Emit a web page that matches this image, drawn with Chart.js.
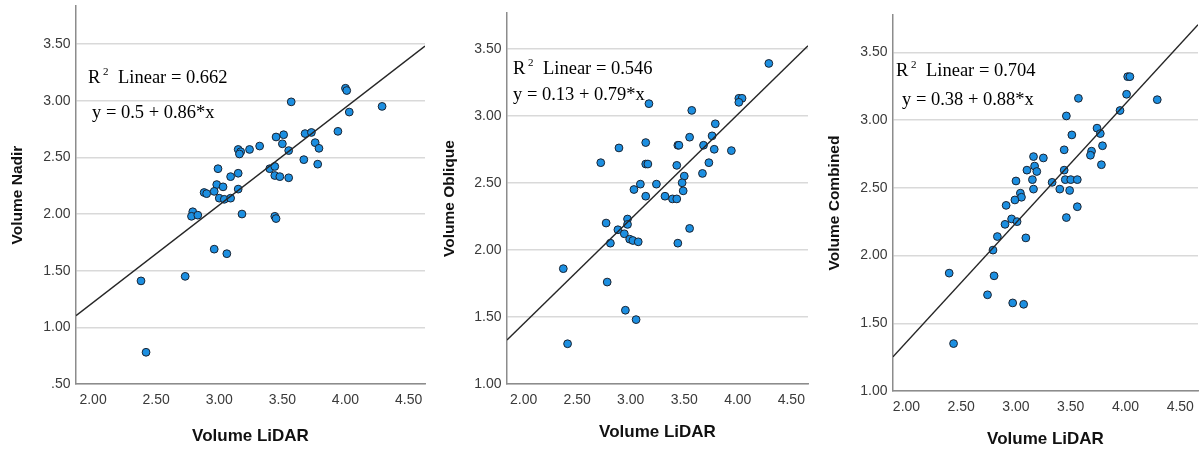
<!DOCTYPE html>
<html>
<head>
<meta charset="utf-8">
<script src="https://cdn.jsdelivr.net/npm/chart.js@4.4.1/dist/chart.umd.min.js"></script>
<style>
    html, body { margin: 0; padding: 0; background: #fff; overflow: hidden; }
    body { width: 1203px; height: 452px; position: relative; }
    canvas { position: absolute; top: 0; }
</style>
</head>
<body>
<canvas id="nadir" width="430" height="452" style="left:0px"></canvas>
<canvas id="oblique" width="381" height="452" style="left:432px"></canvas>
<canvas id="combined" width="387" height="452" style="left:816px"></canvas>
<script>
// tick labels
const xTicks = [2.0, 2.5, 3.0, 3.5, 4.0, 4.5];
const nadirTicks = [0.5, 1.0, 1.5, 2.0, 2.5, 3.0, 3.5];
const volumeTicks = [1.0, 1.5, 2.0, 2.5, 3.0, 3.5];

// Volume LiDAR vs Volume Nadir
const nadirX = [4.00, 4.01, 3.57, 4.29, 4.03, 3.94, 3.68, 3.73, 3.45, 3.51, 3.50, 3.76, 3.79, 3.55, 3.32, 3.24, 3.15, 3.17, 3.16, 3.67, 3.78, 2.99, 3.40, 3.44, 3.15, 3.09, 3.44, 3.48, 3.55, 2.98, 3.03, 2.96, 2.88, 2.90, 3.15, 3.00, 3.04, 3.09, 2.79, 2.78, 2.83, 3.18, 3.44, 3.45, 2.96, 3.06, 2.73, 2.38, 2.42];
const nadirY = [3.11, 3.09, 2.99, 2.95, 2.90, 2.73, 2.71, 2.72, 2.68, 2.70, 2.62, 2.63, 2.58, 2.56, 2.60, 2.57, 2.57, 2.55, 2.53, 2.48, 2.44, 2.40, 2.40, 2.42, 2.36, 2.33, 2.34, 2.33, 2.32, 2.26, 2.24, 2.20, 2.19, 2.18, 2.22, 2.14, 2.13, 2.14, 2.02, 1.98, 1.99, 2.00, 1.98, 1.96, 1.69, 1.65, 1.45, 1.41, 0.78];
const nadirFit = [-0.5, 0.86];

// Volume LiDAR vs Volume Oblique
const obliqueX = [4.29, 4.01, 4.04, 4.01, 3.17, 3.57, 3.79, 3.76, 3.55, 3.14, 2.89, 3.44, 3.45, 3.68, 3.78, 3.94, 2.72, 3.14, 3.16, 3.43, 3.73, 3.67, 3.50, 3.09, 3.24, 3.48, 3.03, 3.49, 3.14, 3.32, 3.39, 3.43, 3.55, 2.77, 2.97, 2.97, 2.88, 2.94, 2.99, 3.02, 3.07, 2.81, 3.44, 2.37, 2.78, 2.95, 3.05, 2.41];
const obliqueY = [3.39, 3.13, 3.13, 3.10, 3.09, 3.04, 2.94, 2.85, 2.84, 2.80, 2.76, 2.78, 2.78, 2.78, 2.75, 2.74, 2.65, 2.64, 2.64, 2.63, 2.65, 2.57, 2.55, 2.49, 2.49, 2.50, 2.45, 2.44, 2.40, 2.40, 2.38, 2.38, 2.16, 2.20, 2.23, 2.19, 2.15, 2.12, 2.08, 2.07, 2.06, 2.05, 2.05, 1.86, 1.76, 1.55, 1.48, 1.30];
const obliqueFit = [-0.11, 0.78];

// Volume LiDAR vs Volume Combined
const combinedX = [4.02, 4.04, 4.01, 4.29, 3.57, 3.95, 3.46, 3.74, 3.77, 3.51, 3.79, 3.44, 3.69, 3.68, 3.78, 3.16, 3.25, 3.17, 3.19, 3.10, 3.44, 3.00, 3.15, 3.33, 3.45, 3.50, 3.56, 3.16, 3.40, 3.49, 3.04, 3.05, 2.99, 3.56, 2.91, 3.46, 2.96, 3.01, 2.90, 2.83, 3.09, 2.79, 2.39, 2.80, 2.74, 2.97, 3.07, 2.43];
const combinedY = [3.32, 3.32, 3.19, 3.15, 3.16, 3.07, 3.03, 2.94, 2.90, 2.89, 2.81, 2.78, 2.77, 2.74, 2.67, 2.73, 2.72, 2.66, 2.62, 2.63, 2.63, 2.55, 2.56, 2.54, 2.56, 2.56, 2.56, 2.49, 2.49, 2.48, 2.46, 2.43, 2.41, 2.36, 2.37, 2.28, 2.27, 2.25, 2.23, 2.14, 2.13, 2.04, 1.87, 1.85, 1.71, 1.65, 1.64, 1.35];
const combinedFit = [-0.40, 0.88];

Chart.defaults.font.family = '"Liberation Sans", Arial, sans-serif';

const fmt = (v) => (v < 1 ? v.toFixed(2).slice(1) : v.toFixed(2));

// draws "R2 Linear = ..." and the equation like SPSS does
const fitLabelPlugin = {
    id: "fitLabel",
    afterDatasetsDraw(chart, args, opts) {
        const ctx = chart.ctx;
        const { left, top } = chart.chartArea;
        const serif = '"Liberation Serif", "Times New Roman", serif';
        ctx.save();
        ctx.fillStyle = "#000";
        ctx.textBaseline = "alphabetic";
        ctx.font = "18.5px " + serif;
        ctx.fillText("R", left + opts.dx, top + opts.dy);
        ctx.fillText("Linear = " + opts.r2, left + opts.dx + 30, top + opts.dy);
        ctx.fillText(opts.eq, left + opts.eqDx, top + opts.eqDy);
        ctx.font = "11px " + serif;
        ctx.fillText("2", left + opts.dx + 15, top + opts.dy - 8);
        ctx.restore();
    },
};

function scatterPanel(id, p) {
    const points = p.x.map((x, i) => ({ x: x, y: p.y[i] }));
    const fitLine = p.xRange.map((x) => ({ x: x, y: p.fit[0] + p.fit[1] * x }));

    return new Chart(document.getElementById(id), {
        type: "scatter",
        data: {
            datasets: [
                {
                    data: fitLine,
                    showLine: true,
                    borderColor: "#262626",
                    borderWidth: 1.4,
                    pointRadius: 0,
                    order: 0,
                },
                {
                    data: points,
                    backgroundColor: "#1c8fe1",
                    borderColor: "#1b2330",
                    borderWidth: 1,
                    pointRadius: 3.9,
                    order: 1,
                },
            ],
        },
        options: {
            responsive: false,
            animation: false,
            events: [],
            layout: { padding: { top: p.top, left: 0, right: 0, bottom: 0 } },
            plugins: {
                legend: { display: false },
                tooltip: { enabled: false },
                fitLabel: p.label,
            },
            scales: {
                x: {
                    type: "linear",
                    min: p.xRange[0],
                    max: p.xRange[1],
                    afterBuildTicks: (s) => {
                        s.ticks = xTicks.map((v) => ({ value: v }));
                    },
                    afterFit: (s) => {
                        s.height = p.xAxisH;
                        s.paddingLeft = 0;
                        s.paddingRight = 0;
                    },
                    grid: { display: false, drawTicks: false },
                    border: { display: true, color: "#8c8c8c", width: 1.5 },
                    ticks: {
                        padding: 8,
                        autoSkip: false,
                        maxRotation: 0,
                        color: "#3a3a3a",
                        font: { size: 14 },
                        callback: (v) => fmt(v),
                    },
                    title: {
                        display: true,
                        text: "Volume LiDAR",
                        color: "#111",
                        font: { size: 17, weight: "bold" },
                        padding: { top: 0, bottom: p.xTitlePad },
                    },
                },
                y: {
                    type: "linear",
                    min: p.yRange[0],
                    max: p.yRange[1],
                    afterBuildTicks: (s) => {
                        s.ticks = p.yTicks.map((v) => ({ value: v }));
                    },
                    afterFit: (s) => {
                        s.width = p.yAxisW;
                        s.paddingTop = 0;
                        s.paddingBottom = 0;
                    },
                    grid: {
                        color: "#d9d9d9",
                        lineWidth: 1.5,
                        drawTicks: false,
                    },
                    border: { display: true, color: "#8c8c8c", width: 1.5 },
                    ticks: {
                        padding: 5.5,
                        autoSkip: false,
                        color: "#3a3a3a",
                        font: { size: 14 },
                        callback: (v) => fmt(v),
                    },
                    title: {
                        display: true,
                        text: p.yTitle,
                        color: "#111",
                        font: { size: 15.5, weight: "bold" },
                        padding: { top: p.yTitlePad, bottom: 0 },
                    },
                },
            },
        },
        plugins: [fitLabelPlugin],
    });
}

scatterPanel("nadir", {
    x: nadirX,
    y: nadirY,
    fit: nadirFit,
    yTicks: nadirTicks,
    xRange: [1.865, 4.63],
    yRange: [0.5, 3.836],
    top: 6,
    xAxisH: 68,
    yAxisW: 76,
    xTitlePad: 5,
    yTitlePad: 8.7,
    yTitle: "Volume Nadir",
    label: { r2: "0.662", eq: "y = 0.5 + 0.86*x", dx: 12, dy: 77, eqDx: 16, eqDy: 112 },
});

scatterPanel("oblique", {
    x: obliqueX,
    y: obliqueY,
    fit: obliqueFit,
    yTicks: volumeTicks,
    xRange: [1.844, 4.656],
    yRange: [1.0, 3.766],
    top: 13,
    xAxisH: 68,
    yAxisW: 75,
    xTitlePad: 9,
    yTitlePad: 8.7,
    yTitle: "Volume Oblique",
    label: { r2: "0.546", eq: "y = 0.13 + 0.79*x", dx: 6, dy: 61, eqDx: 6, eqDy: 87 },
});

scatterPanel("combined", {
    x: combinedX,
    y: combinedY,
    fit: combinedFit,
    yTicks: volumeTicks,
    xRange: [1.877, 4.662],
    yRange: [1.0, 3.775],
    top: 15,
    xAxisH: 61,
    yAxisW: 77,
    xTitlePad: 2,
    yTitlePad: 9.2,
    yTitle: "Volume Combined",
    label: { r2: "0.704", eq: "y = 0.38 + 0.88*x", dx: 3, dy: 61, eqDx: 9, eqDy: 90 },
});
</script>
</body>
</html>
